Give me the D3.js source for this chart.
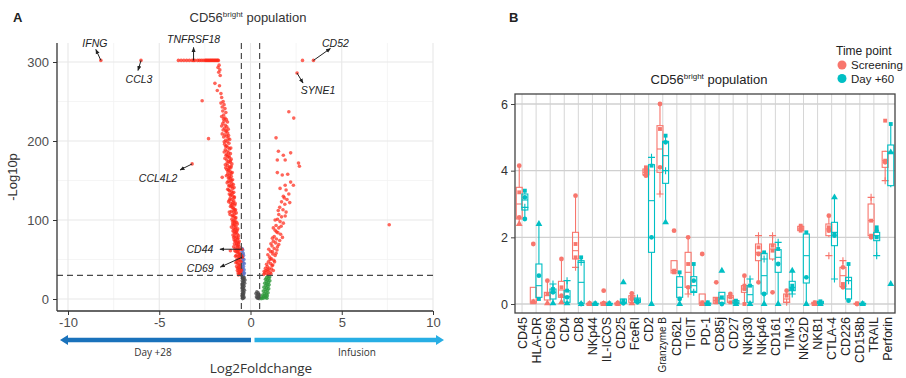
<!DOCTYPE html>
<html><head><meta charset="utf-8">
<script src="https://cdn.jsdelivr.net/npm/d3@7/dist/d3.min.js"></script>
<style>
body{margin:0;background:#fff;}
svg{display:block;font-family:"Liberation Sans",Arial,sans-serif;}
</style></head><body>
<svg id="chart" width="906" height="378"></svg>
<script>
// ---------- Panel A: volcano plot data (log2 fold change, -log10 p) ----------
const topRowLfc = [-3.95,-3.8,-3.65,-3.5,-3.35,-3.2,-3.05,-2.9,-2.8,-2.7,-2.6,-2.5,-2.45,-2.4,-2.35,-2.3,-2.25,-2.2,-2.15,-2.1,-2.05,-2.0,-1.95,-1.9,-1.85,-1.8,-1.76];
const topRowP = 302;

const redLeft = [
 [-1.72,296],[-1.78,293],[-1.68,290],[-1.74,287],[-1.66,283],[-1.95,273],[-1.7,270],[-1.82,264],[-1.62,260],[-1.58,255],
 [-2.65,251],[-1.5,250],[-1.62,248],[-1.45,246],[-1.55,243],[-1.4,241],[-1.52,238],[-1.35,236],[-1.47,233],[-1.58,231],[-1.4,229],
 [-1.32,227],[-1.45,225],[-1.52,222],[-1.38,220],[-1.3,218],[-1.42,216],[-1.5,214],[-1.35,212],[-1.25,210],[-1.4,208],[-1.3,206],
 [-1.47,205],[-2.3,203],[-1.22,203],[-1.36,201],[-1.28,199],[-1.18,197],[-1.42,196],
 [-1.32,194],[-1.24,192],[-1.15,190],[-1.38,189],[-1.28,187],[-1.2,185],[-1.1,184],[-1.34,182],[-1.25,180],[-1.16,179],[-1.06,177],
 [-1.3,176],[-1.2,174],[-1.12,173],[-1.02,171],[-1.38,170],[-1.26,169],[-1.16,167],[-1.08,166],[-1.3,164],[-1.2,163],[-1.1,161],
 [-1.0,160],[-1.25,158],[-1.14,157],[-1.05,155],[-1.55,154],[-1.2,153],[-1.1,152],[-0.98,151],
 [-1.22,149],[-1.12,148],[-1.02,146],[-0.94,145],[-1.18,143],[-1.08,142],[-0.98,140],[-1.25,139],[-1.14,137],[-1.04,136],[-0.92,135],
 [-1.16,133],[-1.06,132],[-0.96,130],[-0.88,129],[-1.12,127],[-1.02,126],[-0.92,124],[-1.2,123],[-1.08,121],[-0.98,120],[-0.86,119],
 [-1.1,117],[-1.0,116],[-0.9,114],[-0.82,113],[-1.05,111],[-0.95,110],[-0.86,108],[-1.12,107],[-1.0,105],[-0.9,104],[-0.8,103],[-1.02,101],
 [-0.92,99],[-0.84,98],[-0.76,97],[-0.98,95],[-0.88,94],[-0.8,92],[-1.05,91],[-0.94,89],[-0.85,88],[-0.74,87],[-0.9,85],[-0.8,84],
 [-0.72,82],[-0.96,81],[-0.86,79],[-0.77,78],[-0.68,77],[-0.9,75],[-0.82,74],[-0.73,72],[-0.65,71],[-0.88,70],[-0.78,68],[-0.7,67],
 [-0.62,66],[-0.84,64],[-0.75,63],[-0.66,62],[-1.1,61],[-0.8,60],
 [-0.72,59],[-0.63,58],[-0.56,57],[-0.78,55],[-0.68,54],[-0.6,53],[-0.54,52],[-0.74,50],[-0.65,49],[-0.57,48],[-0.8,46],[-0.7,45],
 [-0.62,44],[-0.55,43],[-0.76,41],[-0.66,40],[-0.58,39],[-0.52,38],[-0.72,36],[-0.63,35],[-0.56,34],[-0.68,33],[-0.6,32],[-0.53,31],
 [-1.48,228],[-1.26,224],[-1.58,219],[-1.22,215],[-1.33,213],[-1.55,209],[-1.2,207],[-1.14,202],[-1.44,199],[-1.36,193],[-1.08,191],
 [-1.44,186],[-1.3,183],[-1.18,181],[-1.4,178],[-1.1,175],[-1.28,172],[-1.06,168],[-1.36,166],[-1.18,165],[-1.24,161],[-1.06,159],
 [-1.32,156],[-1.16,154],[-1.04,150],
 [-1.28,147],[-1.16,144],[-1.02,143],[-0.9,141],[-1.2,138],[-0.98,134],[-1.1,131],[-0.9,128],[-1.16,125],[-0.96,122],[-0.84,121],
 [-1.04,118],[-0.94,115],[-0.86,112],[-1.16,110],[-0.78,109],[-0.96,106],[-0.84,102],
 [-0.98,98],[-0.88,96],[-0.72,95],[-0.94,93],[-0.84,90],[-0.7,89],[-0.96,86],[-0.76,85],[-0.86,83],[-0.66,80],[-0.92,78],[-0.72,76],
 [-0.84,73],[-0.62,73],[-0.76,70],[-0.66,69],[-0.92,66],[-0.7,65],[-0.58,63],[-0.86,61],[-0.68,60],[-0.6,56],[-0.82,54],[-0.5,55],
 [-0.64,51],[-0.52,47],[-0.74,47],[-0.6,42],[-0.7,39],[-0.5,36],[-0.62,37],[-0.54,33],[-0.66,30.5]
];

const redRight = [
 [2.85,302],[2.1,237],[2.37,229],[1.4,204],[1.53,187],[1.8,182],[2.2,185],[1.9,176],[1.47,176],[2.63,172],[2.68,168],[1.47,160],
 [1.74,157],[2.04,158],[2.2,148],[1.9,144],[2.35,144],[1.95,138],[2.1,133],[1.8,130],[2.0,126],[1.7,123],[1.88,120],[1.6,116],
 [1.78,113],[1.95,110],[1.55,107],[1.7,104],[1.48,101],[1.62,98],[1.8,96],[1.4,93],[1.55,90],[1.35,87],[1.5,84],[1.65,82],
 [1.3,79],[1.42,76],[1.25,73],[1.38,71],[1.55,69],[1.18,67],[1.3,64],[1.45,62],[1.1,60],[1.22,57],[1.35,55],[1.05,53],
 [1.15,51],[1.28,49],[0.98,47],[1.1,45],[1.22,43],[0.92,41],[1.02,39],[1.15,38],[0.85,36],[0.95,35],[1.08,34],[0.78,33],
 [0.9,32],[1.0,31],[0.72,31],[7.6,94],
 [1.62,140],[1.85,128],[2.15,122],[1.52,112],[1.9,105],[1.35,100],[1.68,92],[1.25,90],[1.42,85],[1.75,78],[1.2,77],[1.6,74],
 [1.12,70],[1.48,66],[1.0,63],[1.2,60],[1.4,58],[0.95,56],[1.08,50],[1.32,47],[0.88,44],[1.18,42],[0.82,39],[1.25,36],
 [0.96,37],[0.75,35],[1.12,32]
];

const blueSig = [
 [-0.46,64],[-0.42,62],[-0.47,60],[-0.4,58],[-0.44,56],[-0.38,55],[-0.46,53],[-0.42,51],[-0.36,50],[-0.45,48],[-0.4,46],
 [-0.34,45],[-0.44,43],[-0.38,41],[-0.47,40],[-0.42,38],[-0.35,37],[-0.45,35],[-0.4,34],[-0.33,33],[-0.44,32],[-0.38,31]
];

const greyNs = [
 [-0.46,29],[-0.4,28],[-0.34,27],[-0.44,26],[-0.38,25],[-0.3,24],[-0.45,23],[-0.36,22],[-0.42,21],[-0.32,20],[-0.46,19],
 [-0.39,18],[-0.44,17],[-0.35,16],[-0.41,15],[-0.46,14],[-0.38,13],[-0.43,12],[-0.33,11],[-0.45,10],[-0.4,9],[-0.36,8],
 [-0.44,7],[-0.41,6],[-0.38,5],[-0.46,4],[-0.42,3],[-0.35,2],[-0.4,1],[-0.44,0.5],
 [0.35,9],[0.42,8],[0.3,7],[0.45,6],[0.38,5],[0.48,4],[0.33,3],[0.44,2],[0.4,1],[0.47,0.5],[0.36,1.5]
];

const greenFc = [
 [0.95,29],[1.05,28],[0.88,27],[1.0,26],[0.82,25],[0.93,24],[1.06,23],[0.86,22],[0.98,21],[0.78,20],[0.9,19],[1.02,18],
 [0.84,17],[0.95,16],[0.74,15],[0.88,14],[1.0,13],[0.8,12],[0.92,11],[0.7,10],[0.84,9],[0.96,8],[0.76,7],[0.88,6],[0.66,5],
 [0.8,4.5],[0.92,4],[0.72,3],[0.85,2.5],[0.62,2],[0.78,1.5],[0.9,1],[0.68,0.8],[0.58,0.5]
];

// named genes: [gene, log2FC, -log10 p]
const namedGenes = [
 ["IFNG",-8.2,302],["CCL3",-6.0,302],["TNFRSF18",-3.12,302],["CCL4L2",-3.2,171],
 ["CD52",3.45,302],["SYNE1",2.55,286],["CD44",-0.47,63],["CD69",-0.45,53]
];

const volcanoXTicks = [-10,-5,0,5,10];
const volcanoYTicks = [0,100,200,300];
const fcCut = 0.5, pCut = 30;

// ---------- Panel B: marker expression boxes ----------
const markers = ["CD45","HLA-DR","CD69","CD4","CD8","NKp44","IL-ICOS","CD25","FceRI","CD2","Granzyme B","CD62L","TIGIT","PD-1",
 "CD85j","CD27","NKp30","NKp46","CD161","TIM-3","NKG2D","NKB1","CTLA-4","CD226","CD158b","TRAIL","Perforin"];

// [lower whisker, q1, median, q3, upper whisker]
const screeningStats = [
 [2.4,2.55,3.0,3.5,4.15],[0,0.03,0.08,0.5,0.5],[0,0.12,0.25,0.35,0.7],[0.05,0.2,0.42,0.68,1.35],[1.1,1.35,1.6,2.15,3.25],
 [0,0,0.01,0.02,0.03],[0,0,0.02,0.05,0.05],[0,0,0.01,0.03,0.03],[0,0.05,0.15,0.25,0.32],[3.85,3.88,3.95,4.05,4.1],
 [3.3,3.95,4.65,5.35,6.0],[0.9,0.93,1.0,1.3,1.3],[0.3,0.5,0.95,1.55,2.0],[0,0,0.05,0.3,0.3],[0,0.02,0.1,0.2,0.2],
 [0,0.05,0.2,0.25,0.3],[0,0.35,0.45,0.55,0.85],[0.65,1.3,1.55,1.8,2.05],[1.3,1.35,1.65,1.8,2.05],[0,0.05,0.15,0.3,0.4],
 [2.2,2.2,2.25,2.33,2.35],[0,0,0.02,0.05,0.05],[2.0,2.05,2.25,2.4,2.65],[0.5,0.52,0.85,1.1,1.3],[0,0,0.01,0.02,0.02],
 [2.0,2.05,2.5,3.0,3.2],[3.7,4.1,4.3,4.58,4.6]
];
const day60Stats = [
 [2.5,2.82,3.12,3.3,3.45],[0.15,0.2,0.55,1.2,2.4],[0,0.15,0.35,0.45,0.6],[0,0.05,0.22,0.4,0.7],[0,0.02,0.65,1.3,1.4],
 [0,0,0.01,0.02,0.02],[0,0,0.01,0.02,0.02],[0,0.02,0.05,0.15,0.15],[0.02,0.05,0.1,0.15,0.2],[0,1.55,3.1,4.18,4.4],
 [2.45,3.62,4.45,4.88,5.05],[0,0.2,0.5,0.82,0.95],[0.35,0.38,0.55,0.82,1.2],[0,0,0.01,0.03,0.05],[0,0.02,0.15,0.35,0.35],
 [0,0.01,0.05,0.1,0.12],[0,0.05,0.28,0.55,0.75],[0,0.3,0.85,1.52,1.55],[0,0.95,1.4,1.63,1.85],[0.3,0.4,0.5,0.68,1.0],
 [0,0.63,1.45,2.1,2.15],[0,0.01,0.04,0.08,0.1],[0.75,1.75,2.15,2.45,3.2],[0.1,0.15,0.45,0.8,1.2],[0,0,0.01,0.02,0.02],
 [1.45,1.9,2.05,2.15,2.3],[3.5,3.55,4.55,4.77,5.4]
];

// individual patient values: [marker, value, patient shape]
const screeningPts = [
 ["CD45",4.15,"c"],["CD45",3.35,"s"],["CD45",2.6,"c"],["CD45",2.4,"t"],
 ["HLA-DR",1.8,"c"],["HLA-DR",0.08,"s"],["HLA-DR",0.05,"t"],
 ["CD69",0.7,"c"],["CD69",0.3,"s"],["CD69",0.02,"t"],
 ["CD4",1.35,"c"],["CD4",0.5,"s"],["CD4",0.25,"c"],["CD4",0.05,"t"],
 ["CD8",3.25,"c"],["CD8",1.8,"s"],["CD8",1.4,"s"],["CD8",1.1,"p"],
 ["NKp44",0.02,"c"],["NKp44",0.01,"s"],["NKp44",0,"t"],
 ["IL-ICOS",0.4,"c"],["IL-ICOS",0.03,"s"],["IL-ICOS",0,"t"],
 ["CD25",0.03,"c"],["CD25",0,"s"],["CD25",0.01,"t"],
 ["FceRI",0.32,"c"],["FceRI",0.2,"s"],["FceRI",0.15,"c"],["FceRI",0.02,"t"],
 ["CD2",4.1,"s"],["CD2",4.0,"c"],["CD2",3.9,"t"],["CD2",3.85,"c"],
 ["Granzyme B",6.0,"c"],["Granzyme B",5.25,"s"],["Granzyme B",4.1,"c"],["Granzyme B",3.3,"p"],
 ["CD62L",2.2,"c"],["CD62L",1.0,"s"],["CD62L",0.95,"s"],
 ["TIGIT",2.0,"c"],["TIGIT",1.2,"s"],["TIGIT",0.5,"c"],["TIGIT",0.3,"p"],
 ["PD-1",1.5,"c"],["PD-1",0.05,"s"],["PD-1",0,"t"],
 ["CD85j",0.65,"c"],["CD85j",0.15,"s"],["CD85j",0.05,"s"],
 ["CD27",0.3,"c"],["CD27",0.2,"s"],["CD27",0.05,"s"],
 ["NKp30",0.85,"c"],["NKp30",0.55,"s"],["NKp30",0.45,"s"],["NKp30",0,"s"],
 ["NKp46",2.05,"p"],["NKp46",1.7,"s"],["NKp46",1.5,"c"],["NKp46",0.65,"c"],
 ["CD161",2.05,"p"],["CD161",1.75,"s"],["CD161",1.6,"s"],["CD161",0.35,"c"],
 ["TIM-3",0.4,"c"],["TIM-3",0.25,"s"],["TIM-3",0.05,"p"],
 ["NKG2D",2.35,"s"],["NKG2D",2.3,"s"],["NKG2D",2.25,"s"],["NKG2D",2.2,"s"],
 ["NKB1",0.05,"s"],["NKB1",0.02,"c"],["NKB1",0,"t"],
 ["CTLA-4",2.65,"c"],["CTLA-4",2.3,"s"],["CTLA-4",2.2,"c"],["CTLA-4",1.45,"p"],
 ["CD226",1.3,"p"],["CD226",1.1,"c"],["CD226",0.6,"s"],["CD226",0.5,"c"],
 ["CD158b",0.02,"s"],["CD158b",0,"c"],
 ["TRAIL",3.2,"p"],["TRAIL",2.5,"s"],["TRAIL",2.05,"s"],["TRAIL",2.0,"c"],
 ["Perforin",5.5,"s"],["Perforin",4.3,"s"],["Perforin",4.25,"c"],["Perforin",3.7,"p"]
];
const day60Pts = [
 ["CD45",3.4,"s"],["CD45",3.2,"c"],["CD45",2.9,"p"],["CD45",2.55,"c"],
 ["HLA-DR",2.4,"t"],["HLA-DR",0.85,"c"],["HLA-DR",0.15,"s"],
 ["CD69",0.6,"p"],["CD69",0.45,"s"],["CD69",0.35,"c"],["CD69",0.02,"t"],
 ["CD4",0.7,"p"],["CD4",0.4,"s"],["CD4",0.2,"c"],["CD4",0.02,"t"],
 ["CD8",1.4,"s"],["CD8",1.25,"p"],["CD8",0,"c"],["CD8",0,"t"],
 ["NKp44",0.02,"s"],["NKp44",0,"t"],
 ["IL-ICOS",0.02,"s"],["IL-ICOS",0,"t"],
 ["CD25",0.65,"t"],["CD25",0.1,"s"],["CD25",0.02,"c"],
 ["FceRI",0.18,"p"],["FceRI",0.1,"s"],["FceRI",0.05,"c"],
 ["CD2",4.4,"p"],["CD2",4.15,"s"],["CD2",2.0,"c"],["CD2",0,"t"],
 ["Granzyme B",5.05,"s"],["Granzyme B",4.85,"c"],["Granzyme B",4.0,"p"],["Granzyme B",2.45,"t"],
 ["CD62L",0.95,"s"],["CD62L",0.15,"c"],["CD62L",0,"t"],
 ["TIGIT",1.2,"s"],["TIGIT",0.7,"c"],["TIGIT",0.35,"p"],
 ["PD-1",0.05,"s"],["PD-1",0,"t"],
 ["CD85j",1.0,"t"],["CD85j",0.2,"s"],["CD85j",0,"c"],
 ["CD27",0.1,"s"],["CD27",0,"t"],
 ["NKp30",0.75,"p"],["NKp30",0.55,"s"],["NKp30",0,"t"],
 ["NKp46",1.55,"s"],["NKp46",1.35,"p"],["NKp46",0.3,"c"],["NKp46",0,"t"],
 ["CD161",1.85,"p"],["CD161",1.65,"s"],["CD161",1.2,"c"],["CD161",0,"t"],
 ["TIM-3",1.0,"t"],["TIM-3",0.55,"s"],["TIM-3",0.45,"c"],["TIM-3",0.3,"p"],
 ["NKG2D",2.15,"s"],["NKG2D",0.8,"c"],["NKG2D",0,"t"],
 ["NKB1",0.08,"s"],["NKB1",0,"t"],
 ["CTLA-4",3.2,"t"],["CTLA-4",2.1,"s"],["CTLA-4",2.05,"c"],["CTLA-4",0.75,"p"],
 ["CD226",1.2,"s"],["CD226",0.7,"p"],["CD226",0.1,"c"],
 ["CD158b",0.02,"s"],["CD158b",0,"t"],
 ["TRAIL",2.3,"s"],["TRAIL",2.2,"c"],["TRAIL",2.0,"s"],["TRAIL",1.45,"p"],
 ["Perforin",5.4,"s"],["Perforin",4.55,"t"],["Perforin",0.6,"t"]
];
const boxYTicks = [0,2,4,6];
const timePoints = ["Screening","Day +60"];

// ================= drawing =================
const svg = d3.select("#chart");
const defs = svg.append("defs");
defs.append("marker").attr("id","tip").attr("viewBox","0 0 10 10").attr("refX",9).attr("refY",5)
  .attr("markerWidth",5).attr("markerHeight",5).attr("orient","auto-start-reverse")
  .append("path").attr("d","M0,1 L10,5 L0,9 z").attr("fill","#222");

// ---------- Panel A ----------
const pa = {l:57, r:433, t:43, b:311};
const xA = d3.scaleLinear().domain([-10,10]).range([68,433]);
const yA = d3.scaleLinear().domain([0,300]).range([299,62]);
const gA = svg.append("g");

const minorX = [-7.5,-2.5,2.5,7.5], minorY = [50,150,250];
gA.selectAll(".mx").data(minorX).join("line").attr("x1",d=>xA(d)).attr("x2",d=>xA(d))
  .attr("y1",pa.t).attr("y2",pa.b).attr("stroke","#f3f3f3").attr("stroke-width",0.8);
gA.selectAll(".my").data(minorY).join("line").attr("y1",d=>yA(d)).attr("y2",d=>yA(d))
  .attr("x1",pa.l).attr("x2",pa.r).attr("stroke","#f3f3f3").attr("stroke-width",0.8);
gA.selectAll(".Mx").data(volcanoXTicks).join("line").attr("x1",d=>xA(d)).attr("x2",d=>xA(d))
  .attr("y1",pa.t).attr("y2",pa.b).attr("stroke","#e8e8e8").attr("stroke-width",1.1);
gA.selectAll(".My").data(volcanoYTicks).join("line").attr("y1",d=>yA(d)).attr("y2",d=>yA(d))
  .attr("x1",pa.l).attr("x2",pa.r).attr("stroke","#e8e8e8").attr("stroke-width",1.1);

// points
function dots(data, color, op){
  gA.append("g").selectAll("circle").data(data).join("circle")
    .attr("cx",d=>xA(d[0])).attr("cy",d=>yA(d[1])).attr("r",1.8)
    .attr("fill",color).attr("fill-opacity",op);
}
dots(greyNs,"#4a4a4a",0.75);
dots(greenFc,"#2f9a3c",0.8);
dots(blueSig,"#5a73c9",0.8);
dots(redLeft,"#ff2a1a",0.72);
dots(redRight,"#ff2a1a",0.72);
dots(topRowLfc.map(v=>[v,topRowP]),"#ff2a1a",0.75);
dots(namedGenes.map(g=>[g[1],g[2]]),"#ff2a1a",0.75);

// thresholds
const dash = gA.append("g").attr("stroke","#4a4a4a").attr("stroke-width",1.2).attr("stroke-dasharray","6,4");
[-fcCut, fcCut].forEach(v=>dash.append("line").attr("x1",xA(v)).attr("x2",xA(v)).attr("y1",pa.t).attr("y2",pa.b));
dash.append("line").attr("x1",pa.l).attr("x2",pa.r).attr("y1",yA(pCut)).attr("y2",yA(pCut));

// axes
const axL = gA.append("g").attr("transform",`translate(${pa.l},0)`)
  .call(d3.axisLeft(yA).tickValues(volcanoYTicks).tickSize(4).tickPadding(4));
axL.select(".domain").remove();
axL.append("line").attr("x1",0).attr("x2",0).attr("y1",pa.t).attr("y2",pa.b).attr("stroke","#333").attr("stroke-width",1.3);
const axB = gA.append("g").attr("transform",`translate(0,${pa.b})`)
  .call(d3.axisBottom(xA).tickValues(volcanoXTicks).tickSize(4).tickPadding(3).tickFormat(d3.format("d")));
axB.select(".domain").remove();
axB.append("line").attr("x1",pa.l).attr("x2",pa.r).attr("y1",0).attr("y2",0).attr("stroke","#333").attr("stroke-width",1.3);
[axL,axB].forEach(a=>{
  a.selectAll(".tick line").attr("stroke","#333");
  a.selectAll(".tick text").attr("fill","#4d4d4d").style("font-size","13px").style("font-family","Liberation Sans, Arial, sans-serif");
});
axB.selectAll(".tick text").text(d=>d<0?"-"+Math.abs(d):d);

// gene labels: offsets of the text and of the arrow tip from the point (px)
const labelLayout = {
  IFNG:{tx:-6,ty:-17,ax:-5,ay:-11}, CCL3:{tx:-2,ty:19,ax:-3,ay:10}, TNFRSF18:{tx:0,ty:-21,ax:0,ay:-13},
  CCL4L2:{tx:-34,ty:14,ax:-12,ay:6}, CD52:{tx:22,ty:-17,ax:17,ay:-12}, SYNE1:{tx:21,ty:17,ax:6,ay:10},
  CD44:{tx:-42,ty:0,ax:-22,ay:0}, CD69:{tx:-42,ty:11,ax:-22,ay:10}
};
namedGenes.forEach(g=>{
  const px = xA(g[1]), py = yA(g[2]), o = labelLayout[g[0]];
  gA.append("line").attr("x1",px).attr("y1",py).attr("x2",px+o.ax).attr("y2",py+o.ay)
    .attr("stroke","#222").attr("stroke-width",1).attr("marker-end","url(#tip)");
  gA.append("text").attr("x",px+o.tx).attr("y",py+o.ty).attr("dy","0.35em").attr("text-anchor","middle")
    .style("font-style","italic").style("font-size","10.5px").attr("fill","#222").text(g[0]);
});

// titles
svg.append("text").attr("x",13).attr("y",22).style("font-weight","bold").style("font-size","13px").attr("fill","#222").text("A");
const tA = svg.append("text").attr("x",248).attr("y",22).attr("text-anchor","middle").style("font-size","13px").attr("fill","#333");
tA.append("tspan").text("CD56");
tA.append("tspan").attr("dy",-5).style("font-size","8px").text("bright");
tA.append("tspan").attr("dy",5).text(" population");
svg.append("text").attr("transform","translate(17,177) rotate(-90)").attr("text-anchor","middle")
  .style("font-size","13px").attr("fill","#333").text("-Log10p");

// direction arrows under the x axis
const arrY = 340;
function bigArrow(x0, x1, color){
  const dir = Math.sign(x1-x0), head = 8;
  const shaft = x1 - dir*head;
  svg.append("path").attr("fill",color)
    .attr("d",`M${x0},${arrY-2.3} L${shaft},${arrY-2.3} L${shaft},${arrY-5} L${x1},${arrY} L${shaft},${arrY+5} L${shaft},${arrY+2.3} L${x0},${arrY+2.3} Z`);
}
bigArrow(xA(0)+0.5, 60, "#1a72bb");
bigArrow(xA(0)+4, 444, "#27aee4");
svg.append("text").attr("x",153).attr("y",356).attr("text-anchor","middle").style("font-family","Open Sans, sans-serif")
  .style("font-size","10px").attr("fill","#333").text("Day +28");
svg.append("text").attr("x",357).attr("y",356).attr("text-anchor","middle").style("font-family","Open Sans, sans-serif")
  .style("font-size","10px").attr("fill","#333").text("Infusion");
svg.append("text").attr("x",261).attr("y",373).attr("text-anchor","middle").style("font-family","Open Sans, sans-serif")
  .style("font-size","13.5px").attr("fill","#333").text("Log2Foldchange");

// ---------- Panel B ----------
const pb = {l:515, r:895, t:94, b:313};
const xB = d3.scaleBand().domain(markers).range([pb.l,pb.r]);
const yB = d3.scaleLinear().domain([0,6]).range([304,104]);
const gB = svg.append("g");
const cx = m => xB(m) + xB.bandwidth()/2;

gB.selectAll(".vg").data(markers).join("line").attr("x1",d=>cx(d)).attr("x2",d=>cx(d))
  .attr("y1",pb.t).attr("y2",pb.b).attr("stroke","#d6d6d6").attr("stroke-width",1);
gB.selectAll(".hg").data(boxYTicks).join("line").attr("y1",d=>yB(d)).attr("y2",d=>yB(d))
  .attr("x1",pb.l).attr("x2",pb.r).attr("stroke","#d0d0d0").attr("stroke-width",1.3);

const groups = [
  {name:timePoints[0], stats:screeningStats, pts:screeningPts, color:"#F8766D", off:-2.8},
  {name:timePoints[1], stats:day60Stats, pts:day60Pts, color:"#00BFC4", off:2.8}
];
const bw = 6;
groups.forEach(gr=>{
  const g = gB.append("g").attr("stroke",gr.color).attr("fill","none").attr("stroke-width",1.1);
  gr.stats.forEach((s,i)=>{
    const x = cx(markers[i]) + gr.off;
    g.append("line").attr("x1",x).attr("x2",x).attr("y1",yB(s[0])).attr("y2",yB(s[1]));
    g.append("line").attr("x1",x).attr("x2",x).attr("y1",yB(s[3])).attr("y2",yB(s[4]));
    g.append("rect").attr("x",x-bw/2).attr("width",bw).attr("y",yB(s[3])).attr("height",Math.max(0.8,yB(s[1])-yB(s[3])));
    g.append("line").attr("x1",x-bw/2).attr("x2",x+bw/2).attr("y1",yB(s[2])).attr("y2",yB(s[2]));
  });
  const sym = {c:d3.symbolCircle, t:d3.symbolTriangle, s:d3.symbolSquare};
  const size = {c:18, t:20, s:15};
  gr.pts.forEach(p=>{
    const x = cx(p[0]) + gr.off, y = yB(p[1]);
    if(p[2]==="p"){
      gB.append("path").attr("d",`M${x-3.5},${y}H${x+3.5}M${x},${y-3.5}V${y+3.5}`)
        .attr("stroke",gr.color).attr("stroke-width",1.1);
    } else {
      gB.append("path").attr("transform",`translate(${x},${y})`)
        .attr("d",d3.symbol().type(sym[p[2]]).size(size[p[2]])()).attr("fill",gr.color);
    }
  });
});

gB.append("rect").attr("x",pb.l).attr("y",pb.t).attr("width",pb.r-pb.l).attr("height",pb.b-pb.t)
  .attr("fill","none").attr("stroke","#444").attr("stroke-width",1.3);

const ayB = gB.append("g").attr("transform",`translate(${pb.l},0)`)
  .call(d3.axisLeft(yB).tickValues(boxYTicks).tickSize(4).tickPadding(3).tickFormat(d3.format("d")));
ayB.select(".domain").remove();
ayB.selectAll(".tick line").attr("stroke","#444");
ayB.selectAll(".tick text").attr("fill","#333").style("font-size","12.5px").style("font-family","Liberation Sans, Arial, sans-serif");

gB.selectAll(".xl").data(markers).join("text")
  .attr("transform",d=>`translate(${cx(d)},${pb.b+4}) rotate(-90)`)
  .attr("text-anchor","end").attr("dy","0.36em")
  .style("font-size",d=>d==="Granzyme B"?"10px":"12.5px").attr("fill","#222").text(d=>d);

svg.append("text").attr("x",509).attr("y",22).style("font-weight","bold").style("font-size","13px").attr("fill","#222").text("B");
const tB = svg.append("text").attr("x",709).attr("y",84).attr("text-anchor","middle").style("font-size","13px").attr("fill","#222");
tB.append("tspan").text("CD56");
tB.append("tspan").attr("dy",-5).style("font-size","8px").text("bright");
tB.append("tspan").attr("dy",5).text(" population");

// legend
const lg = svg.append("g").attr("transform","translate(836,0)");
lg.append("text").attr("x",0).attr("y",55).style("font-size","12px").attr("fill","#222").text("Time point");
groups.forEach((gr,i)=>{
  lg.append("circle").attr("cx",6).attr("cy",65+i*13.5).attr("r",4.5).attr("fill",gr.color);
  lg.append("text").attr("x",15).attr("y",65+i*13.5).attr("dy","0.36em").style("font-size","11.5px").attr("fill","#222").text(gr.name);
});
</script>
</body></html>
